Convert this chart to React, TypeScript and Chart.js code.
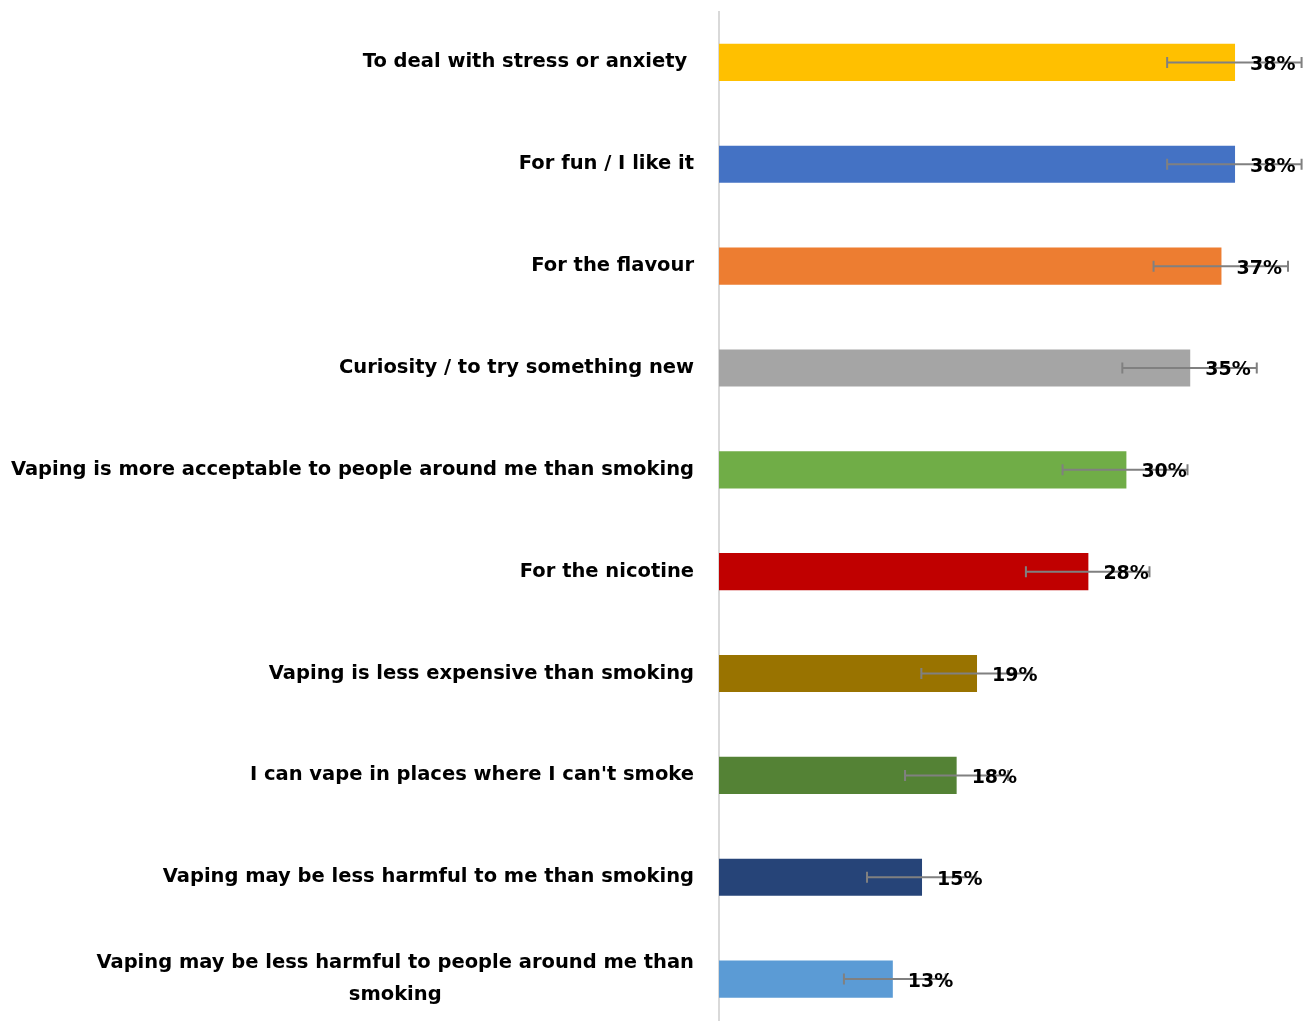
import React, { useEffect, useRef } from "react";
import { Chart, registerables } from "chart.js";

Chart.register(...registerables);

const categories: string[][] = [
  ["To deal with stress or anxiety "],
  ["For fun / I like it"],
  ["For the flavour"],
  ["Curiosity / to try something new"],
  ["Vaping is more acceptable to people around me than smoking"],
  ["For the nicotine"],
  ["Vaping is less expensive than smoking"],
  ["I can vape in places where I can't smoke"],
  ["Vaping may be less harmful to me than smoking"],
  ["Vaping may be less harmful to people around me than", "smoking"],
];

const values: number[] = [38.0, 38.0, 37.0, 34.7, 30.0, 27.2, 19.0, 17.5, 14.95, 12.8];
const errorLow: number[] = [33.0, 33.0, 32.0, 29.7, 25.3, 22.6, 14.9, 13.7, 10.9, 9.2];
const errorHigh: number[] = [42.9, 42.9, 41.9, 39.6, 34.5, 31.7, 23.0, 21.3, 18.9, 16.7];
const valueLabels: string[] = ["38%", "38%", "37%", "35%", "30%", "28%", "19%", "18%", "15%", "13%"];

const barColors: string[] = [
  "#FFC000",
  "#4472C4",
  "#ED7D31",
  "#A5A5A5",
  "#70AD47",
  "#C00000",
  "#997300",
  "#548235",
  "#264478",
  "#5B9BD5",
];

const FONT = "'DejaVu Sans', 'Open Sans', sans-serif";

const overlayPlugin = {
  id: "overlay",
  afterDatasetsDraw(chart: any) {
    const ctx = chart.ctx;
    const xs = chart.scales.x;
    const meta = chart.getDatasetMeta(0);
    ctx.save();
    // error bars
    ctx.strokeStyle = "#808080";
    ctx.lineWidth = 2;
    meta.data.forEach((bar: any, i: number) => {
      const y = bar.y;
      const x1 = xs.getPixelForValue(errorLow[i]);
      const x2 = xs.getPixelForValue(errorHigh[i]);
      ctx.beginPath();
      ctx.moveTo(x1, y);
      ctx.lineTo(x2, y);
      ctx.moveTo(x1, y - 5.5);
      ctx.lineTo(x1, y + 5.5);
      ctx.moveTo(x2, y - 5.5);
      ctx.lineTo(x2, y + 5.5);
      ctx.stroke();
    });
    // value labels
    ctx.fillStyle = "#000000";
    ctx.font = `bold 19px ${FONT}`;
    ctx.textAlign = "left";
    ctx.textBaseline = "alphabetic";
    meta.data.forEach((bar: any, i: number) => {
      ctx.fillText(valueLabels[i], bar.x + 15, bar.y + 7.5);
    });
    // category labels
    ctx.font = `bold 19.5px ${FONT}`;
    const right = chart.chartArea.left - 25;
    meta.data.forEach((bar: any, i: number) => {
      const lines = categories[i];
      const widths = lines.map((l) => ctx.measureText(l).width);
      const block = Math.max(...widths);
      const cx = right - block / 2;
      const lh = 32;
      const start = bar.y - ((lines.length - 1) * lh) / 2;
      ctx.textAlign = "center";
      lines.forEach((l, j) => {
        ctx.fillText(l, cx, start + j * lh + 5);
      });
    });
    ctx.restore();
  },
};

export default function App() {
  const ref = useRef<HTMLCanvasElement | null>(null);
  useEffect(() => {
    document.body.style.margin = "0";
    document.body.style.overflow = "hidden";
    const chart = new Chart(ref.current as HTMLCanvasElement, {
      type: "bar",
      data: {
        labels: categories.map((c) => c.join(" ")),
        datasets: [
          {
            data: values,
            backgroundColor: barColors,
            borderWidth: 0,
            barPercentage: 0.365,
            categoryPercentage: 1,
          },
        ],
      },
      options: {
        indexAxis: "y",
        responsive: false,
        maintainAspectRatio: false,
        animation: false,
        layout: { padding: { top: 11.5, bottom: 0, left: 0, right: 0 } },
        plugins: {
          legend: { display: false },
          tooltip: { enabled: false },
          title: { display: false },
        },
        scales: {
          x: {
            display: false,
            min: 0,
            max: 43.52,
          },
          y: {
            display: true,
            ticks: { display: false },
            grid: { display: false, drawTicks: false },
            border: { display: true, color: "#d9d9d9", width: 2 },
            afterFit: (s: any) => {
              s.width = 719;
            },
          },
        },
      },
      plugins: [overlayPlugin],
    });
    return () => chart.destroy();
  }, []);
  return (
    <div style={{ width: 1310, height: 1021, overflow: "hidden", position: "relative" }}>
      <canvas ref={ref} width={1310} height={1030} style={{ display: "block" }} />
    </div>
  );
}
